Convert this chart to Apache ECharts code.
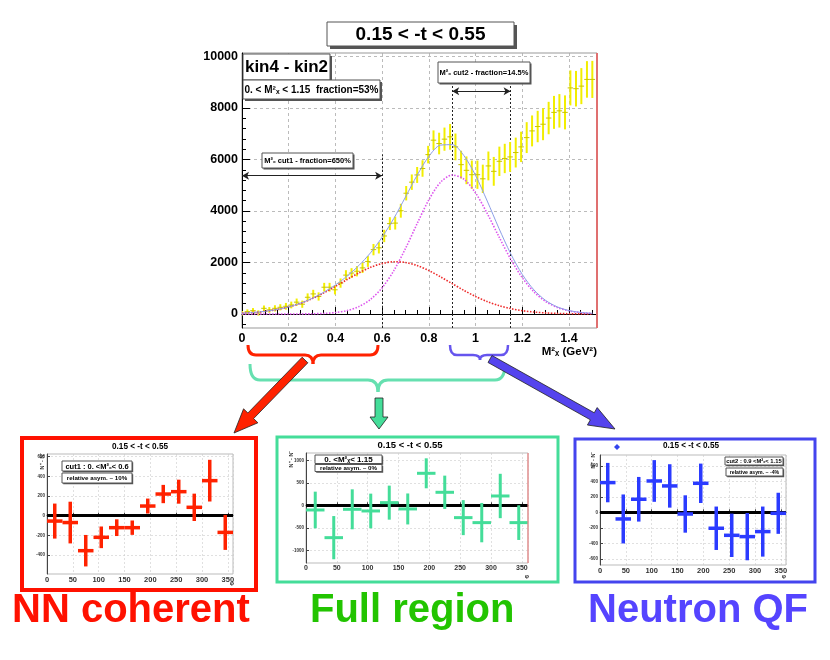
<!DOCTYPE html>
<html><head><meta charset="utf-8">
<script src="https://cdn.jsdelivr.net/npm/echarts@6/dist/echarts.min.js"></script>
<style>html,body{margin:0;padding:0;background:#fff}#c{width:830px;height:660px}</style>
</head><body><div id="c"></div>
<script>
// ---------------- data: main M_x^2 histogram ----------------
const mx2 = [0.000,0.023,0.047,0.070,0.094,0.117,0.141,0.164,0.188,0.211,0.234,0.258,0.281,0.305,0.328,0.352,0.375,0.398,0.422,0.445,0.469,0.492,0.516,0.539,0.563,0.586,0.609,0.633,0.656,0.680,0.703,0.727,0.750,0.773,0.797,0.820,0.844,0.867,0.891,0.914,0.938,0.961,0.984,1.008,1.031,1.055,1.078,1.102,1.125,1.148,1.172,1.195,1.219,1.242,1.266,1.289,1.313,1.336,1.359,1.383,1.406,1.430,1.453,1.477,1.500];
const counts = [30,90,130,40,220,160,220,260,300,350,460,380,650,780,680,1040,1040,940,1200,1510,1590,1660,1790,2040,2500,2570,3030,3510,3530,4010,4690,5120,5400,5650,6190,6750,6620,6790,6880,6490,5800,5580,5410,5410,5250,5750,5540,5930,6040,6100,6270,6490,6850,7110,7280,7370,7610,7830,7890,7830,8780,8750,8850,9110,9110];
const countErr = [90,90,100,100,110,110,120,120,130,130,140,140,150,160,160,170,170,180,180,190,190,200,200,210,220,220,240,250,250,270,280,300,310,320,340,380,420,450,500,520,540,540,550,550,550,560,560,570,570,580,580,590,600,600,610,620,630,640,650,660,680,690,700,710,720];
const mx2HalfBin = 0.0117;

// fitted curves
const fitX = [0,0.05,0.1,0.15,0.2,0.25,0.3,0.35,0.4,0.45,0.5,0.55,0.6,0.65,0.7,0.75,0.8,0.85,0.9,0.95,1.0,1.05,1.1,1.15,1.2,1.25,1.3,1.35,1.4,1.45,1.5];
const fitTotal = [33,60,105,174,275,416,604,841,1127,1470,1880,2374,2982,3711,4543,5392,6121,6558,6576,6152,5381,4387,3329,2350,1539,936,528,276,134,61,26];
const fitNN = [33,60,105,174,275,414,596,819,1071,1338,1594,1811,1962,2028,2000,1880,1687,1443,1178,917,681,482,326,210,129,76,42,22,11,6,3];
const fitQF = [0,0,0,0,0,2,8,22,56,132,286,563,1020,1683,2543,3512,4434,5115,5398,5235,4700,3905,3003,2140,1410,860,486,254,123,55,23];

const mainYTicks = [0,2000,4000,6000,8000,10000];
const mainYMinor = [-400,0,400,800,1200,1600,2000,2400,2800,3200,3600,4000,4400,4800,5200,5600,6000,6400,6800,7200,7600,8000,8400,8800,9200,9600,10000];
const cutBounds = [0.6, 0.9, 1.15];
const cutTops = [6200, 8870, 8870];
const cut1Range = [0, 0.6], cut1ArrowY = 5370;
const cut2Range = [0.9, 1.15], cut2ArrowY = 8650;

// ---------------- data: asymmetry panels ----------------
const phi = [15,45,75,105,135,165,195,225,255,285,315,345];
const phiHalfBin = 15;
const nnAsym = [-55,-70,-356,-220,-122,-122,98,220,244,85,356,-170];
const nnErr  = [178,212,160,110,85,73,76,93,122,139,212,178];
const fullAsym = [-104,-719,-89,-126,59,-81,711,289,-274,-385,207,-385];
const fullErr  = [407,480,444,385,378,344,333,370,389,437,493,385];
const qfAsym = [383,-86,168,404,340,-22,374,-206,-297,-314,-249,-13];
const qfErr  = [254,316,288,269,280,241,254,280,280,305,323,265];
const nnYTicks = [-400,-200,0,200,400,600];
const fullYTicks = [-1000,-500,0,500,1000];
const qfYTicks = [-600,-400,-200,0,200,400,600];

// ---------------- helpers ----------------
const FONT = "'Liberation Sans', Arial, Helvetica, sans-serif";
const plain = v => String(v);
function txt(x, y, text, size, color, opt) {
  opt = opt || {};
  return {type:'text', x:x, y:y, rotation: opt.rot || 0, z: opt.z || 120,
    style:{text:text, font:'bold ' + size + 'px ' + FONT, fill:color,
      textAlign: opt.align || 'center', align: opt.align || 'center',
      textVerticalAlign: opt.va || 'middle', verticalAlign: opt.va || 'middle'}};
}
function pave(x, y, w, h, text, size, sh) {
  return [
    {type:'rect', z:100, shape:{x:x+sh, y:y+sh, width:w, height:h}, style:{fill:'#555'}},
    {type:'rect', z:101, shape:{x:x, y:y, width:w, height:h}, style:{fill:'#fff', stroke:'#555', lineWidth:1}},
    txt(x + w/2, y + h/2 + 0.5, text, size, '#000', {z:102})
  ];
}
function arrow(x1, y1, x2, y2, sw, hw, hl, fill) {
  const dx = x2-x1, dy = y2-y1, L = Math.hypot(dx, dy), ux = dx/L, uy = dy/L, px = -uy, py = ux;
  const bx = x2-ux*hl, by = y2-uy*hl;
  const pts = [[x1+px*sw/2, y1+py*sw/2],[bx+px*sw/2, by+py*sw/2],[bx+px*hw/2, by+py*hw/2],[x2, y2],
    [bx-px*hw/2, by-py*hw/2],[bx-px*sw/2, by-py*sw/2],[x1-px*sw/2, y1-py*sw/2]];
  return {type:'polygon', z:60, shape:{points:pts}, style:{fill:fill, stroke:'#222', lineWidth:0.8}};
}
function brace(x1, x2, tip, yTop, yMid, yTip, color, lw, r) {
  const st = {stroke:color, lineWidth:lw, fill:'none'};
  return [
    {type:'bezierCurve', z:50, shape:{x1:x1, y1:yTop, cpx1:x1, cpy1:yMid, x2:x1+r, y2:yMid}, style:st},
    {type:'line', z:50, shape:{x1:x1+r, y1:yMid, x2:tip-r, y2:yMid}, style:st},
    {type:'bezierCurve', z:50, shape:{x1:tip-r, y1:yMid, cpx1:tip, cpy1:yMid, x2:tip, y2:yTip}, style:st},
    {type:'bezierCurve', z:50, shape:{x1:tip, y1:yTip, cpx1:tip, cpy1:yMid, x2:tip+r, y2:yMid}, style:st},
    {type:'line', z:50, shape:{x1:tip+r, y1:yMid, x2:x2-r, y2:yMid}, style:st},
    {type:'bezierCurve', z:50, shape:{x1:x2-r, y1:yMid, cpx1:x2, cpy1:yMid, x2:x2, y2:yTop}, style:st}
  ];
}
function crossSeries(xi, yi, xs, ys, es, hw, colV, colH, lwV, lwH) {
  return {
    type:'custom', xAxisIndex:xi, yAxisIndex:yi, clip:true, z:5, silent:true,
    data: xs.map((x, i) => [x, ys[i], es[i]]),
    encode:{x:0, y:1},
    renderItem: function (params, api) {
      const x = api.value(0), y = api.value(1), e = api.value(2);
      const t = api.coord([x, y+e]), b = api.coord([x, y-e]);
      const l = api.coord([x-hw, y]), r = api.coord([x+hw, y]);
      return {type:'group', children:[
        {type:'line', shape:{x1:t[0], y1:t[1], x2:b[0], y2:b[1]}, style:{stroke:colV, lineWidth:lwV}},
        {type:'line', shape:{x1:l[0], y1:l[1], x2:r[0], y2:r[1]}, style:{stroke:colH, lineWidth:lwH}}
      ]};
    }
  };
}
function panelX(gi, size) {
  return {gridIndex:gi, type:'value', min:0, max:360, interval:50,
    axisLine:{lineStyle:{color:'#444', width:1}},
    axisTick:{inside:true, length:3, lineStyle:{color:'#444'}},
    axisLabel:{fontSize:size, fontWeight:'bold', fontFamily:FONT, color:'#333', margin:2, showMaxLabel:false, formatter:plain},
    splitLine:{show:true, lineStyle:{color:'#ccc', type:[2,2], width:0.6}}};
}
function panelY(gi, mn, mx, ticks) {
  return {gridIndex:gi, type:'value', min:mn, max:mx,
    axisLine:{show:true, lineStyle:{color:'#444', width:1}},
    axisTick:{show:true, inside:true, length:3, customValues:ticks, lineStyle:{color:'#444'}},
    axisLabel:{customValues:ticks, fontSize:4.5, fontWeight:'bold', fontFamily:FONT, color:'#333', margin:2, formatter:plain},
    splitLine:{show:true, lineStyle:{color:'#ccc', type:[2,2], width:0.6}}};
}
function zeroLine(xi, yi) {
  return {type:'line', xAxisIndex:xi, yAxisIndex:yi, data:[], z:4, silent:true,
    markLine:{silent:true, symbol:'none', label:{show:false},
      lineStyle:{color:'#000', width:3, type:'solid'}, data:[{yAxis:0}]}};
}

// ---------------- option ----------------
const chart = echarts.init(document.getElementById('c'), null, {renderer:'canvas'});
const graphics = [].concat(
  pave(327, 22, 187, 24, '0.15 < -t < 0.55', 19, 3),
  pave(243, 54, 87, 26, 'kin4 - kin2', 17, 2),
  pave(243, 80, 137, 19, '0. < M²ₓ < 1.15  fraction=53%', 10, 2),
  pave(262, 153, 91, 15, 'M²ₓ cut1 - fraction=650%', 7.5, 1.5),
  pave(438, 62, 92, 21, 'M²ₓ cut2 - fraction=14.5%', 7.5, 1.5),
  [txt(597, 352, 'M²ₓ (GeV²)', 11.5, '#000', {align:'right'}),
   {type:'line', z:90, shape:{x1:597, y1:53, x2:597, y2:328}, style:{stroke:'#e07070', lineWidth:2}}],
  brace(250, 505, 378, 364, 380, 392, '#66e0b0', 3, 10),
  brace(248, 378, 313, 345, 355, 364, '#ff2200', 3, 8),
  brace(450, 508, 480, 345, 355, 360, '#6655ee', 2.5, 7),
  [arrow(305, 360, 234, 433, 8, 20, 24, '#ff2200'),
   arrow(490, 359, 615, 429, 8, 20, 26, '#5544ee'),
   arrow(379, 398, 379, 429, 8, 18, 12, '#44dd99')],
  // panel borders
  [{type:'rect', z:10, shape:{x:22, y:438, width:234, height:152}, style:{fill:'none', stroke:'#ff1100', lineWidth:4}},
   {type:'rect', z:10, shape:{x:277, y:437, width:281, height:145}, style:{fill:'none', stroke:'#44dd99', lineWidth:3}},
   {type:'rect', z:10, shape:{x:575, y:439, width:240, height:143}, style:{fill:'none', stroke:'#4444ee', lineWidth:3}},
   {type:'line', z:90, shape:{x1:528, y1:453, x2:528, y2:563}, style:{stroke:'#ee8888', lineWidth:1.2}}],
  // panel titles & labels
  [txt(140, 447, '0.15 < -t < 0.55', 8.2, '#000'),
   txt(410, 445, '0.15 < -t < 0.55', 9.5, '#000'),
   txt(691, 446, '0.15 < -t < 0.55', 8.2, '#000'),
   txt(42, 461, 'N⁺ - N⁻', 5.5, '#333', {rot:Math.PI/2}),
   txt(291, 459, 'N⁺ - N⁻', 5.5, '#333', {rot:Math.PI/2}),
   txt(593, 460, 'N⁺ - N⁻', 5.5, '#333', {rot:Math.PI/2}),
   txt(232, 583, 'φ', 6, '#333'),
   txt(527, 576, 'φ', 6, '#333'),
   txt(784, 576, 'φ', 6, '#333'),
   {type:'polygon', z:120, shape:{points:[[617,444],[620,447],[617,450],[614,447]]}, style:{fill:'#3344ee'}}],
  pave(62, 461, 70, 10, 'cut1 : 0. <M²ₓ< 0.6', 7.5, 1.2),
  pave(62, 473, 70, 10, 'relative asym. ~ 10%', 6.2, 1.2),
  pave(315, 455, 67, 8.5, '0. <M²ₓ< 1.15', 8, 1.2),
  pave(315, 464.5, 67, 7, 'relative asym. ~ 0%', 6.2, 1.2),
  pave(725, 457, 58, 8, 'cut2 : 0.9 <M²ₓ< 1.15', 5.8, 1.2),
  pave(726, 468, 57, 8, 'relative asym. ~ -4%', 5.2, 1.2),
  // bottom labels
  [txt(12, 631, 'NN coherent', 40, '#ff1100', {align:'left', va:'bottom'}),
   txt(310, 631, 'Full region', 40, '#22c400', {align:'left', va:'bottom'}),
   txt(588, 631, 'Neutron QF', 40, '#5544ff', {align:'left', va:'bottom'})]
);

const option = {
  backgroundColor:'#fff',
  animation:false,
  grid:[
    {left:242, top:53, width:355, height:275, show:true, borderColor:'#999', borderWidth:1, backgroundColor:'#fff'},
    {left:47, top:454, width:186, height:120, show:true, borderColor:'#bbb', borderWidth:1},
    {left:306, top:453, width:222, height:110, show:true, borderColor:'#bbb', borderWidth:1},
    {left:600, top:455, width:186, height:110, show:true, borderColor:'#bbb', borderWidth:1}
  ],
  xAxis:[
    {gridIndex:0, type:'value', min:0, max:1.52, interval:0.2,
      axisLine:{lineStyle:{color:'#000', width:1}},
      axisTick:{inside:true, length:7, lineStyle:{color:'#000'}},
      minorTick:{show:true, splitNumber:4, length:4, lineStyle:{color:'#000'}},
      axisLabel:{fontSize:12.5, fontWeight:'bold', fontFamily:FONT, color:'#000', margin:4, showMaxLabel:false},
      splitLine:{show:true, lineStyle:{color:'#aaa', type:[3,3], width:0.8}}},
    panelX(1, 7.5), panelX(2, 7), panelX(3, 7.5)
  ],
  yAxis:[
    {gridIndex:0, type:'value', min:-544, max:10136,
      axisLine:{show:true, lineStyle:{color:'#000', width:1}},
      axisTick:{show:true, inside:true, length:8, customValues:mainYTicks, lineStyle:{color:'#000'}},
      axisLabel:{customValues:mainYTicks, fontSize:12.5, fontWeight:'bold', fontFamily:FONT, color:'#000', margin:4, formatter:plain},
      splitLine:{show:true, lineStyle:{color:'#aaa', type:[3,3], width:0.8}}},
    {gridIndex:0, type:'value', min:-544, max:10136, position:'left',
      axisLine:{show:false}, axisLabel:{show:false}, splitLine:{show:false},
      axisTick:{show:true, inside:true, length:4, customValues:mainYMinor, lineStyle:{color:'#000'}}},
    panelY(1, -593, 627, nnYTicks),
    panelY(2, -1282, 1162, fullYTicks),
    panelY(3, -680, 739, qfYTicks)
  ],
  series:[
    crossSeries(0, 0, mx2, counts, countErr, mx2HalfBin, '#f2ee00', '#c8c400', 2, 1),
    {type:'line', xAxisIndex:0, yAxisIndex:0, smooth:0.3, showSymbol:false, z:6, silent:true,
      data: fitX.map((x, i) => [x, fitNN[i]]),
      lineStyle:{color:'#ee2a2a', width:1.6, type:[1.5,1.5]}},
    {type:'line', xAxisIndex:0, yAxisIndex:0, smooth:0.3, showSymbol:false, z:6, silent:true,
      data: fitX.map((x, i) => [x, fitQF[i]]),
      lineStyle:{color:'#dd55ee', width:1.6, type:[1.5,1.5]}},
    {type:'line', xAxisIndex:0, yAxisIndex:0, smooth:0.3, showSymbol:false, z:7, silent:true,
      data: fitX.map((x, i) => [x, fitTotal[i]]),
      lineStyle:{color:'#8c9ee8', width:1},
      markLine:{silent:true, symbol:'none', label:{show:false}, symbolSize:[6,7],
        lineStyle:{color:'#222', width:1, type:[2,2]},
        data: cutBounds.map((c, i) => [{coord:[c, -544]}, {coord:[c, cutTops[i]]}]).concat([
          [{coord:[cut1Range[0], cut1ArrowY], symbol:'arrow', lineStyle:{type:'solid', width:1}},
           {coord:[cut1Range[1], cut1ArrowY], symbol:'arrow'}],
          [{coord:[cut2Range[0], cut2ArrowY], symbol:'arrow', lineStyle:{type:'solid', width:1}},
           {coord:[cut2Range[1], cut2ArrowY], symbol:'arrow'}]
        ])}},
    zeroLine(1, 2), zeroLine(2, 3), zeroLine(3, 4),
    crossSeries(1, 2, phi, nnAsym, nnErr, phiHalfBin, '#ff2200', '#ff2200', 3.5, 3.5),
    crossSeries(2, 3, phi, fullAsym, fullErr, phiHalfBin, '#44dd99', '#44dd99', 3, 3),
    crossSeries(3, 4, phi, qfAsym, qfErr, phiHalfBin, '#2b3bff', '#2b3bff', 3.5, 3.5)
  ],
  graphic: graphics
};
chart.setOption(option);
</script>
</body></html>
